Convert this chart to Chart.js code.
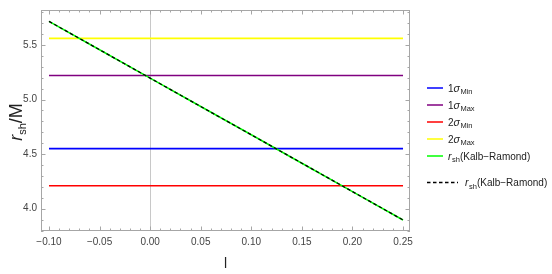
<!DOCTYPE html>
<html>
<head>
<meta charset="utf-8">
<script src="https://cdn.jsdelivr.net/npm/chart.js@4"></script>
<style>
  html, body { margin: 0; padding: 0; background: #fff; }
  #wrap { width: 552px; height: 274px; }
</style>
</head>
<body>
<div id="wrap"><canvas id="c" width="552" height="274"></canvas></div>
<script>
// l values and shadow radius
const lValues = [-0.10, -0.05, 0.00, 0.05, 0.10, 0.15, 0.20, 0.25];
const rshKR = [5.716, 5.456, 5.196, 4.936, 4.677, 4.417, 4.157, 3.897];

// constant bounds (1 sigma / 2 sigma)
const sigma1Min = 4.55;
const sigma1Max = 5.22;
const sigma2Min = 4.21;
const sigma2Max = 5.56;

const xTicks = [-0.10, -0.05, 0.00, 0.05, 0.10, 0.15, 0.20, 0.25];
const xTickLabels = ['\u22120.10', '\u22120.05', '0.00', '0.05', '0.10', '0.15', '0.20', '0.25'];
const yTicks = [4.0, 4.5, 5.0, 5.5];
const yTickLabels = ['4.0', '4.5', '5.0', '5.5'];

const ends = [lValues[0], lValues[lValues.length - 1]];
function flat(v) { return ends.map(x => ({ x: x, y: v })); }

const FONT = '"Liberation Sans", Arial, sans-serif';

// frame, inward ticks, axis titles and legend
const decor = {
    id: 'decor',
    afterDraw(chart) {
        const ctx = chart.ctx;
        const a = chart.chartArea;
        const xs = chart.scales.x, ys = chart.scales.y;
        ctx.save();
        ctx.strokeStyle = '#a6a6a6';
        ctx.lineWidth = 1;
        ctx.strokeRect(a.left + 0.5, a.top + 0.5, a.right - a.left - 1, a.bottom - a.top - 1);

        // x ticks (major every 0.05, minor every 0.01)
        ctx.beginPath();
        for (let i = -10; i <= 25; i++) {
            const px = Math.round(xs.getPixelForValue(i / 100)) + 0.5;
            const len = (i % 5 === 0) ? 4.5 : 2.5;
            ctx.moveTo(px, a.bottom); ctx.lineTo(px, a.bottom - len);
            ctx.moveTo(px, a.top); ctx.lineTo(px, a.top + len);
        }
        // y ticks (major every 0.5, minor every 0.1)
        for (let i = 38; i <= 58; i++) {
            const py = Math.round(ys.getPixelForValue(i / 10)) + 0.5;
            const len = (i % 5 === 0) ? 4.5 : 2.5;
            ctx.moveTo(a.left, py); ctx.lineTo(a.left + len, py);
            ctx.moveTo(a.right, py); ctx.lineTo(a.right - len, py);
        }
        ctx.stroke();

        // axis titles
        ctx.fillStyle = '#222';
        ctx.textBaseline = 'alphabetic';
        ctx.font = '14px ' + FONT;
        ctx.textAlign = 'center';
        ctx.fillText('l', (a.left + a.right) / 2, 268);

        ctx.save();
        ctx.translate(22, 122);
        ctx.rotate(-Math.PI / 2);
        ctx.textAlign = 'left';
        ctx.font = 'italic 18px ' + FONT;
        const w1 = ctx.measureText('r').width;
        ctx.font = '11px ' + FONT;
        const w2 = ctx.measureText('sh').width;
        ctx.font = '18px ' + FONT;
        const w3 = ctx.measureText('/M').width;
        let x0 = -(w1 + w2 + w3) / 2;
        ctx.font = 'italic 18px ' + FONT;
        ctx.fillText('r', x0, 0); x0 += w1;
        ctx.font = '11px ' + FONT;
        ctx.fillText('sh', x0, 4); x0 += w2;
        ctx.font = '18px ' + FONT;
        ctx.fillText('/M', x0, 0);
        ctx.restore();

        // legend
        const items = [
            { color: '#0000ff', pre: '1', sym: 'σ', sub: 'Min', y: 88 },
            { color: '#800080', pre: '1', sym: 'σ', sub: 'Max', y: 105 },
            { color: '#ff0000', pre: '2', sym: 'σ', sub: 'Min', y: 122 },
            { color: '#ffff00', pre: '2', sym: 'σ', sub: 'Max', y: 139 },
            { color: '#00ff00', pre: '', sym: 'r', sub: 'sh', post: '(Kalb\u2212Ramond)', y: 156 },
        ];
        items.forEach(it => {
            ctx.strokeStyle = it.color;
            ctx.lineWidth = 1.5;
            ctx.setLineDash([]);
            ctx.beginPath();
            ctx.moveTo(427, it.y); ctx.lineTo(443, it.y);
            ctx.stroke();
            legendText(ctx, 448, it.y + 3.5, it);
        });
        ctx.strokeStyle = '#000';
        ctx.lineWidth = 1.3;
        ctx.setLineDash([3.5, 2.5]);
        ctx.beginPath();
        ctx.moveTo(427, 182.5); ctx.lineTo(458, 182.5);
        ctx.stroke();
        ctx.setLineDash([]);
        legendText(ctx, 465, 186, { pre: '', sym: 'r', sub: 'sh', post: '(Kalb\u2212Ramond)' });
        ctx.restore();
    }
};

function legendText(ctx, x, y, it) {
    ctx.fillStyle = '#222';
    ctx.textAlign = 'left';
    ctx.textBaseline = 'alphabetic';
    if (it.pre) {
        ctx.font = '10px ' + FONT;
        ctx.fillText(it.pre, x, y);
        x += ctx.measureText(it.pre).width;
    }
    ctx.font = 'italic 10.5px ' + FONT;
    ctx.fillText(it.sym, x, y);
    x += ctx.measureText(it.sym).width + 0.5;
    ctx.font = '7.5px ' + FONT;
    ctx.fillText(it.sub, x, y + 2.5);
    x += ctx.measureText(it.sub).width;
    if (it.post) {
        ctx.font = '10px ' + FONT;
        ctx.fillText(it.post, x, y);
    }
}

new Chart(document.getElementById('c'), {
    type: 'line',
    data: {
        datasets: [
            {
                label: 'rsh dashed',
                data: lValues.map((x, i) => ({ x: x, y: rshKR[i] })),
                borderColor: '#000000',
                borderWidth: 1.3,
                borderDash: [3.5, 2.5],
                order: 0
            },
            {
                label: 'rsh',
                data: lValues.map((x, i) => ({ x: x, y: rshKR[i] })),
                borderColor: '#00ff00',
                borderWidth: 1.6,
                order: 1
            },
            { label: '1sMin', data: flat(sigma1Min), borderColor: '#0000ff', borderWidth: 1.6, order: 2 },
            { label: '1sMax', data: flat(sigma1Max), borderColor: '#800080', borderWidth: 1.6, order: 2 },
            { label: '2sMin', data: flat(sigma2Min), borderColor: '#ff0000', borderWidth: 1.6, order: 2 },
            { label: '2sMax', data: flat(sigma2Max), borderColor: '#ffff00', borderWidth: 1.6, order: 2 }
        ]
    },
    options: {
        responsive: false,
        animation: false,
        events: [],
        elements: { point: { radius: 0 }, line: { tension: 0 } },
        layout: { padding: { left: 0, right: 142, top: 3, bottom: 0 } },
        plugins: { legend: { display: false }, tooltip: { enabled: false } },
        scales: {
            x: {
                type: 'linear',
                min: -0.1079,
                max: 0.2569,
                afterBuildTicks: s => { s.ticks = xTicks.map(v => ({ value: v })); },
                afterFit: s => { s.height = 43; },
                ticks: {
                    callback: (v, i) => xTickLabels[i],
                    color: '#444',
                    font: { family: FONT, size: 10 },
                    padding: 5,
                    maxRotation: 0,
                    autoSkip: false
                },
                grid: {
                    drawTicks: false,
                    color: c => (c.tick && c.tick.value === 0) ? '#c8c8c8' : 'rgba(0,0,0,0)'
                },
                border: { display: false }
            },
            y: {
                type: 'linear',
                min: 3.796,
                max: 5.82,
                afterBuildTicks: s => { s.ticks = yTicks.map(v => ({ value: v })); },
                afterFit: s => { s.width = 41; },
                ticks: {
                    callback: (v, i) => yTickLabels[i],
                    color: '#444',
                    font: { family: FONT, size: 10 },
                    padding: 4
                },
                grid: { display: false, drawTicks: false },
                border: { display: false }
            }
        }
    },
    plugins: [decor]
});
</script>
</body>
</html>
